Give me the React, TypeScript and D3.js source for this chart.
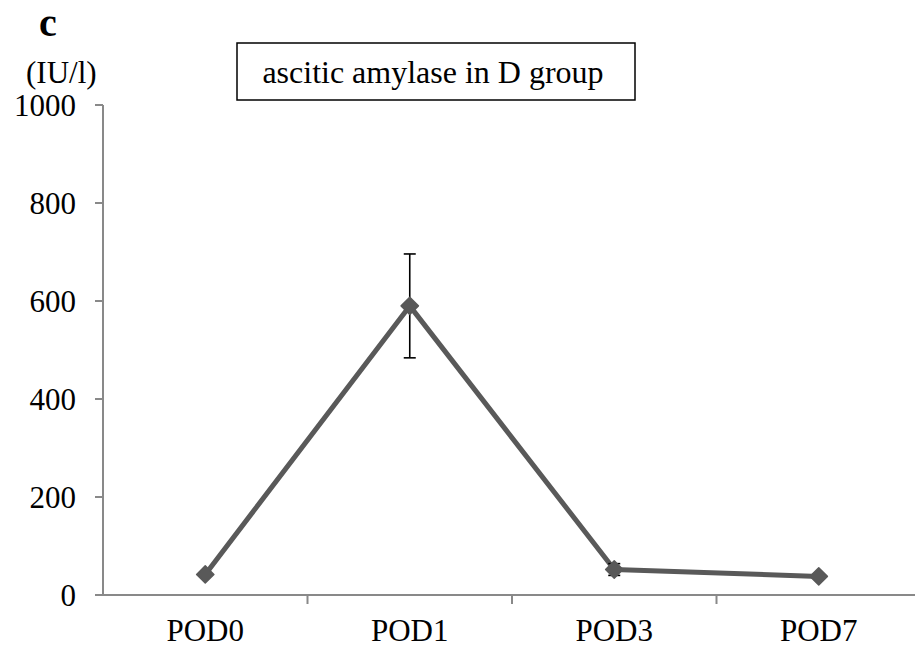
import React from "react";
import * as d3 from "d3";

const categories = ["POD0", "POD1", "POD3", "POD7"];
const means = [42, 590, 52, 38];
const errors = [0, 106, 12, 0];
const yTicks = [0, 200, 400, 600, 800, 1000];
const title = "ascitic amylase in D group";
const unitLabel = "(IU/l)";
const panelLabel = "c";

const W = 915;
const H = 647;
const FONT = "'Liberation Serif', 'Times New Roman', serif";

export default function App() {
  const x = d3.scaleBand<string>().domain(categories).range([103, 921]).padding(0);
  const y = d3.scaleLinear().domain([0, 1000]).range([595, 105]);
  const cx = (c: string) => (x(c) as number) + x.bandwidth() / 2;

  const line = d3
    .line<number>()
    .x((_, i) => cx(categories[i]))
    .y((d) => y(d));

  const diamond = d3.symbol().type(d3.symbolDiamond2).size(190)();
  const axisColor = "#898989";
  const seriesColor = "#595959";
  const fs = 31;

  return (
    <svg
      width={W}
      height={H}
      style={{ position: "absolute", left: 0, top: 0, background: "#fff" }}
      fontFamily={FONT}
    >
      <rect x={0} y={0} width={W} height={H} fill="#fff" />
      {/* panel label */}
      <text x={39} y={36} fontSize={40} fontWeight="bold" fill="#000">
        {panelLabel}
      </text>
      <text x={26} y={83} fontSize={fs} fill="#000">
        {unitLabel}
      </text>
      {/* title box */}
      <rect x={237} y={43} width={398} height={57} fill="#fff" stroke="#000" strokeWidth={1.5} />
      <text x={433} y={83} fontSize={32} textAnchor="middle" fill="#000">
        {title}
      </text>

      {/* y axis */}
      <line x1={103} x2={103} y1={y(1000)} y2={y(0)} stroke={axisColor} strokeWidth={2} />
      {yTicks.map((t) => (
        <g key={t}>
          <line x1={95} x2={103} y1={y(t)} y2={y(t)} stroke={axisColor} strokeWidth={2} />
          <text x={76} y={y(t)} dy="0.35em" fontSize={fs} textAnchor="end" fill="#000">
            {t}
          </text>
        </g>
      ))}

      {/* x axis */}
      <line x1={103} x2={921} y1={y(0)} y2={y(0)} stroke={axisColor} strokeWidth={2} />
      {categories.map((c) => (
        <line
          key={"t" + c}
          x1={(x(c) as number) + x.bandwidth()}
          x2={(x(c) as number) + x.bandwidth()}
          y1={y(0)}
          y2={y(0) + 9}
          stroke={axisColor}
          strokeWidth={2}
        />
      ))}
      {categories.map((c) => (
        <text key={"l" + c} x={cx(c)} y={641} fontSize={fs} textAnchor="middle" fill="#000">
          {c}
        </text>
      ))}

      {/* series line */}
      <path
        d={line(means) || ""}
        fill="none"
        stroke={seriesColor}
        strokeWidth={5}
        strokeLinejoin="round"
      />

      {/* error bars */}
      {means.map((m, i) =>
        errors[i] > 0 ? (
          <g key={"e" + i} stroke="#000" strokeWidth={1.6}>
            <line x1={cx(categories[i])} x2={cx(categories[i])} y1={y(m + errors[i])} y2={y(m - errors[i])} />
            <line x1={cx(categories[i]) - 6} x2={cx(categories[i]) + 6} y1={y(m + errors[i])} y2={y(m + errors[i])} />
            <line x1={cx(categories[i]) - 6} x2={cx(categories[i]) + 6} y1={y(m - errors[i])} y2={y(m - errors[i])} />
          </g>
        ) : null
      )}

      {/* markers */}
      {means.map((m, i) => (
        <path
          key={"m" + i}
          d={diamond || ""}
          transform={`translate(${cx(categories[i])},${y(m)})`}
          fill={seriesColor}
          stroke={seriesColor}
          strokeWidth={1.5}
          strokeLinejoin="round"
        />
      ))}
    </svg>
  );
}
